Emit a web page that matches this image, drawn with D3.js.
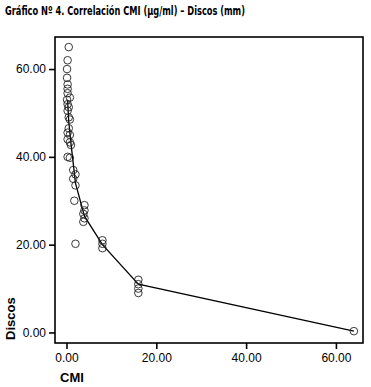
<!DOCTYPE html>
<html>
<head>
<meta charset="utf-8">
<script src="https://cdn.jsdelivr.net/npm/d3@7"></script>
<style>
  body { margin: 0; background: #fff; }
  svg { display: block; }
</style>
</head>
<body>
<svg id="chart" width="371" height="387"></svg>
<script>
// scatter points: CMI (µg/ml) and disc halo (mm)
const cmi = [0.5, 0.25, 0.125, 0.125, 0.25, 0.25, 0.25, 0.75, 0.125, 0.25,
    0.5, 0.25, 0.5, 0.75, 0.5, 0.25, 0.75, 0.25, 0.75, 1,
    0.25, 0.75, 1.5, 2, 1.5, 2, 1.75, 4, 4, 3.75,
    4, 3.75, 2, 8, 8, 8, 16, 16, 16, 16, 64];
const discos = [65, 62, 60, 58, 56.5, 55.5, 54.5, 53.5, 53, 52,
    51.3, 50.5, 49, 48.5, 46.5, 45.5, 45, 44, 43.3, 42.7,
    40, 39.8, 37, 36, 35, 33.5, 30, 29, 27.8, 27,
    26, 25.2, 20.2, 21, 20.2, 19.2, 12, 11, 10, 9, 0.3];

// fitted line
const fitCmi = [0.25, 0.5, 1, 2, 4, 8, 16, 64];
const fitDiscos = [53, 48, 43, 34, 26.5, 20, 11, 0.3];

const xTicks = [0, 20, 40, 60];
const yTicks = [0, 20, 40, 60];

const svg = d3.select("#chart");
const mLeft = 55, mRight = 363, mTop = 37, mBottom = 343;

const x = d3.scaleLinear().domain([-2.56, 66.03]).range([mLeft, mRight]);
const y = d3.scaleLinear().domain([-2.4, 67.3]).range([mBottom, mTop]);

// title
svg.append("text")
    .attr("x", 5).attr("y", 15)
    .attr("font-family", "'Liberation Sans Narrow', 'DejaVu Sans Condensed', Arial, sans-serif")
    .attr("font-weight", "bold")
    .attr("font-size", 12)
    .attr("textLength", 240)
    .attr("lengthAdjust", "spacingAndGlyphs")
    .text("Gráfico Nº 4. Correlación CMI (µg/ml) – Discos (mm)");

// axes
const xAxis = svg.append("g")
    .attr("transform", `translate(0,${mBottom})`)
    .call(d3.axisBottom(x).tickValues(xTicks).tickFormat(d3.format(".2f")).tickSize(6).tickPadding(4));
const yAxis = svg.append("g")
    .attr("transform", `translate(${mLeft},0)`)
    .call(d3.axisLeft(y).tickValues(yTicks).tickFormat(d3.format(".2f")).tickSize(6).tickPadding(3));

[xAxis, yAxis].forEach(g => {
    g.select(".domain").remove();
    g.selectAll("line").attr("stroke", "#000").attr("stroke-width", 1.6);
    g.selectAll("text")
        .attr("fill", "#000")
        .attr("font-family", "'Liberation Sans', Arial, sans-serif")
        .attr("font-size", 12);
});

// frame
svg.append("rect")
    .attr("x", mLeft).attr("y", mTop)
    .attr("width", mRight - mLeft).attr("height", mBottom - mTop)
    .attr("fill", "none")
    .attr("stroke", "#000")
    .attr("stroke-width", 1.6);

// fit line
const line = d3.line()
    .x((d, i) => x(fitCmi[i]))
    .y(d => y(d));
svg.append("path")
    .datum(fitDiscos)
    .attr("d", line)
    .attr("fill", "none")
    .attr("stroke", "#000")
    .attr("stroke-width", 1.3);

// points
svg.append("g")
    .selectAll("circle")
    .data(cmi)
    .join("circle")
    .attr("cx", d => x(d))
    .attr("cy", (d, i) => y(discos[i]))
    .attr("r", 3.8)
    .attr("fill", "none")
    .attr("stroke", "#222")
    .attr("stroke-width", 0.9);

// axis titles
svg.append("text")
    .attr("x", 60).attr("y", 382)
    .attr("font-family", "'Liberation Sans', Arial, sans-serif")
    .attr("font-weight", "bold")
    .attr("font-size", 13)
    .text("CMI");

svg.append("text")
    .attr("transform", "translate(15,340) rotate(-90)")
    .attr("font-family", "'Liberation Sans', Arial, sans-serif")
    .attr("font-weight", "bold")
    .attr("font-size", 13)
    .text("Discos");
</script>
</body>
</html>
